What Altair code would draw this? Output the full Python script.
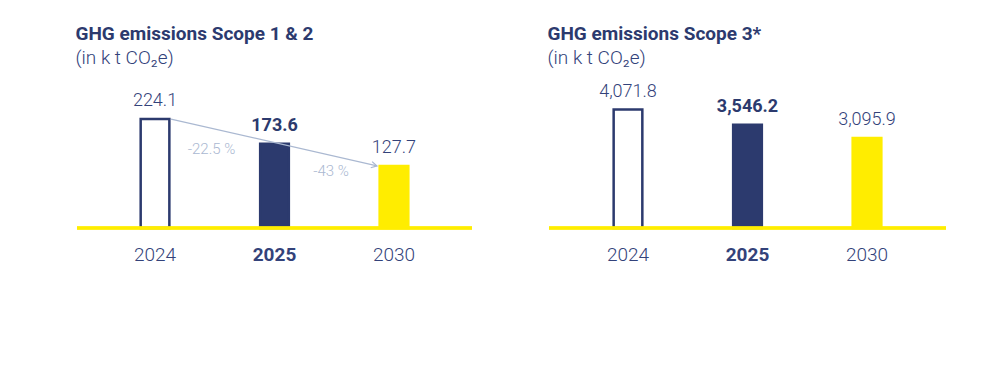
import altair as alt
import pandas as pd

# ---- data ----
years = ["2024", "2025", "2030"]
scope12 = [224.1, 173.6, 127.7]
scope3 = [4071.8, 3546.2, 3095.9]
labels12 = ["224.1", "173.6", "127.7"]
labels3 = ["4,071.8", "3,546.2", "3,095.9"]
highlight_year = "2025"

change_to = ["2025", "2030"]
change_value = [173.6, 127.7]
change_label = ["-22.5 %", "-43 %"]

arrow_from = ["2024"]
arrow_to = ["2030"]
arrow_v1 = [224.1]
arrow_v2 = [127.7]

# ---- styles ----
NAVY = "#2c3a6e"
YELLOW = "#ffed00"
TEXT = "#33427a"
ARROW = "#aab8d1"
FONT = "Roboto"
fills = ["#ffffff", NAVY, YELLOW]
strokes = [NAVY, NAVY, YELLOW]
H = 154


def panel(values, labels, dmax, width, pad_outer, title, extra=None):
    df = pd.DataFrame({"year": years, "v": values, "label": labels,
                       "fill": fills, "stroke": strokes})
    yscale = alt.Scale(domain=[0, dmax], nice=False, zero=True)
    x = alt.X("year:N", sort=years,
              scale=alt.Scale(paddingInner=0.76, paddingOuter=pad_outer),
              axis=alt.Axis(title=None, domain=False, ticks=False, labelAngle=0,
                            labelFont=FONT, labelFontSize=19, labelColor=TEXT,
                            labelPadding=17,
                            labelFontWeight={"condition": {"test": f"datum.value === '{highlight_year}'",
                                                           "value": "bold"}, "value": 300}))
    y = alt.Y("v:Q", scale=yscale, axis=None)
    base = alt.Chart(df)
    bars = base.mark_bar(strokeWidth=2.5).encode(
        x=x, y=y,
        fill=alt.Fill("fill:N", scale=None),
        stroke=alt.Stroke("stroke:N", scale=None),
    )
    txt_norm = base.transform_filter(f"datum.year != '{highlight_year}'").mark_text(
        font=FONT, fontSize=18, fontWeight=300, color=TEXT, baseline="middle", dy=-18
    ).encode(x=alt.X("year:N", sort=years), y=alt.Y("v:Q", scale=yscale), text="label:N")
    txt_bold = base.transform_filter(f"datum.year == '{highlight_year}'").mark_text(
        font=FONT, fontSize=18, fontWeight="bold", color=NAVY, baseline="middle", dy=-18
    ).encode(x=alt.X("year:N", sort=years), y=alt.Y("v:Q", scale=yscale), text="label:N")
    rule = base.mark_rule(color=YELLOW, strokeWidth=3).encode(y=alt.datum(0, scale=yscale))
    layers = [bars, txt_norm, txt_bold]
    if extra:
        layers += [e(yscale) for e in extra]
    layers.append(rule)
    return alt.layer(*layers).properties(
        width=width, height=H,
        title=alt.Title(title, subtitle="(in k t CO\u2082e)", anchor="start",
                        font=FONT, fontSize=19, fontWeight="bold", color=NAVY,
                        subtitleFont=FONT, subtitleFontSize=19, subtitleColor=TEXT,
                        subtitleFontWeight=300, subtitlePadding=5, offset=6),
    )


arrow_df = pd.DataFrame({"a": arrow_from, "b": arrow_to, "v1": arrow_v1, "v2": arrow_v2})
change_df = pd.DataFrame({"year": change_to, "v": change_value, "label": change_label})


def arrow_line(ys):
    return alt.Chart(arrow_df).mark_rule(color=ARROW, strokeWidth=1.2, xOffset=16, x2Offset=-17).encode(
        x=alt.X("a:N", sort=years), x2="b:N", y=alt.Y("v1:Q", scale=ys), y2="v2:Q")


def arrow_head(ys):
    return alt.Chart(arrow_df).mark_point(
        shape="M-1,-0.55 L0,0 L-1,0.55", filled=False, stroke=ARROW, strokeWidth=1.2,
        size=130, angle=13, xOffset=-17, opacity=1).encode(
        x=alt.X("b:N", sort=years), y=alt.Y("v2:Q", scale=ys))


def change_txt(ys):
    return alt.Chart(change_df).mark_text(
        font=FONT, fontSize=15, fontWeight=300, color=ARROW, baseline="middle", xOffset=-63, dy=5
    ).encode(x=alt.X("year:N", sort=years), y=alt.Y("v:Q", scale=ys), text="label:N")


left = panel(scope12, labels12, H / 0.486, 395, 0.533, "GHG emissions Scope 1 & 2",
             extra=[arrow_line, arrow_head, change_txt])
right = panel(scope3, labels3, H / 0.0291, 397, 0.541, "GHG emissions Scope 3*")

chart = alt.hconcat(left, right, spacing=73).properties(
    padding={"left": 67, "top": 17, "right": 10, "bottom": 10}
).configure_view(stroke=None)

chart.save("out.html", embed_options={"renderer": "svg", "actions": False})
